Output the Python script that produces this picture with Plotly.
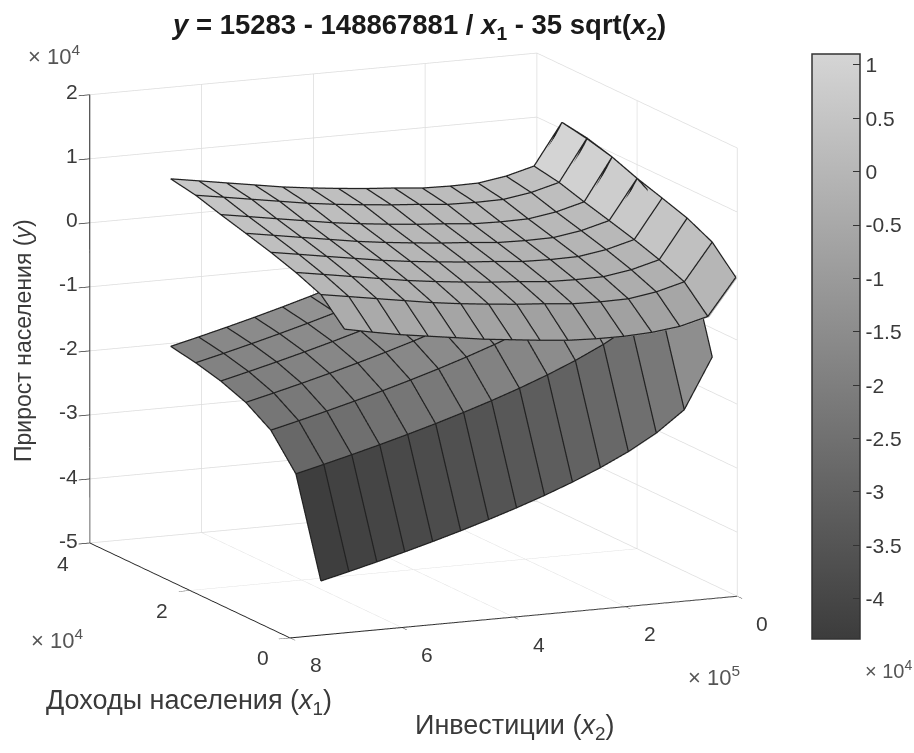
import numpy as np
import plotly.graph_objects as go

x1_upper = [0, 5000, 10000, 15000, 20000, 25000, 30000, 35000]
x1_lower = [5000, 10000, 15000, 20000, 25000, 30000, 35000]
x2_vals = [700000, 650000, 600000, 550000, 500000, 450000, 400000, 350000,
           300000, 250000, 200000, 150000, 100000, 50000, 0]

z_upper = [
    [-2695, -3575, -4375, -5020, -5664, -6310, -6800, -7285, -7695, -7870, -7890, -7675, -7150, -6000, -310],
    [960, 240, -490, -1210, -1930, -2500, -2980, -3400, -3730, -4140, -4240, -4180, -3500, -2340, 3450],
    [2560, 1840, 1110, 390, -330, -900, -1380, -1800, -2130, -2540, -2640, -2580, -1900, -740, 5350],
    [3850, 3130, 2400, 1680, 960, 390, -90, -510, -840, -1250, -1350, -1290, -610, 550, 6620],
    [4960, 4240, 3510, 2790, 2070, 1500, 1020, 600, 270, -140, -240, -180, 500, 1660, 7850],
    [6030, 5310, 4580, 3860, 3140, 2570, 2090, 1670, 1340, 930, 830, 890, 1570, 2730, 9340],
    [7200, 6490, 5760, 5040, 4320, 3750, 3270, 2850, 2520, 2110, 2010, 2070, 2750, 3910, 10430],
    [7906, 7190, 6460, 5740, 5015, 4450, 3970, 3550, 3220, 2810, 2710, 2770, 3450, 4610, 11040],
]
z_lower = [
    [-43774, -42709, -41602, -40448, -39240, -37970, -36627, -35197, -33661, -31991, -30143, -28046, -25559, -22317, -14491],
    [-28887, -27822, -26715, -25561, -24353, -23083, -21740, -20310, -18774, -17104, -15256, -13159, -10672, -7430, 396],
    [-23925, -22860, -21753, -20599, -19391, -18121, -16778, -15348, -13812, -12142, -10294, -8197, -5710, -2468, 5358],
    [-21443, -20378, -19271, -18117, -16909, -15639, -14296, -12866, -11330, -9660, -7812, -5715, -3228, 14, 7840],
    [-19955, -18890, -17783, -16629, -15421, -14151, -12808, -11378, -9842, -8172, -6324, -4227, -1740, 1502, 9328],
    [-18962, -17897, -16790, -15636, -14428, -13158, -11815, -10385, -8849, -7179, -5331, -3234, -747, 2495, 10321],
    [-18253, -17188, -16081, -14927, -13719, -12449, -11106, -9676, -8140, -6470, -4622, -2525, -38, 3204, 11030],
]

x1_ticks = [0, 20000, 40000]
x1_labels = ["0", "2", "4"]
x2_ticks = [0, 200000, 400000, 600000, 800000]
x2_labels = ["0", "2", "4", "6", "8"]
z_ticks = [-50000, -40000, -30000, -20000, -10000, 0, 10000, 20000]
z_labels = ["-5", "-4", "-3", "-2", "-1", "0", "1", "2"]
cb_ticks = [10000, 5000, 0, -5000, -10000, -15000, -20000, -25000, -30000, -35000, -40000]
cb_labels = ["1", "0.5", "0", "-0.5", "-1", "-1.5", "-2", "-2.5", "-3", "-3.5", "-4"]

W, H = 914, 753
TXT = "#3a3a3a"
FONT = "Liberation Sans"
CMIN, CMAX = -43774, 11030
SCALE = [[0, "rgb(60,60,60)"], [1, "rgb(213,213,213)"]]
# Wire lines are moved along the viewing direction only, so they stay on the
# same screen position but are not buried in the faces by the depth test.
TOWARD_EYE = (-300, 2685, 134)


def sheet(x1, x2, z, showbar):
    z = np.array(z, dtype=float)
    n, m = z.shape
    X, Y = np.meshgrid(x1, x2, indexing="ij")
    idx = np.arange(n * m).reshape(n, m)
    a = idx[:-1, :-1].ravel()
    b = idx[1:, :-1].ravel()
    c = idx[1:, 1:].ravel()
    d = idx[:-1, 1:].ravel()
    cell = z[:-1, 1:].ravel()
    kw = dict(cmin=CMIN, cmax=CMAX, colorscale=SCALE, hoverinfo="skip")
    if showbar:
        kw.update(showscale=True, colorbar=dict(
            x=812 / W, xanchor="left", y=1 - 639 / H, yanchor="bottom",
            len=585 / H, lenmode="fraction", thickness=48, thicknessmode="pixels",
            outlinewidth=1.5, outlinecolor="#333333", xpad=0, ypad=0,
            tickmode="array", tickvals=cb_ticks, ticktext=cb_labels,
            ticks="inside", ticklen=7, tickwidth=1, tickcolor="#333333",
            tickfont=dict(family=FONT, size=21, color=TXT)))
    else:
        kw.update(showscale=False)
    mesh = go.Mesh3d(
        x=X.ravel(), y=Y.ravel(), z=z.ravel(),
        i=np.r_[a, a], j=np.r_[b, c], k=np.r_[c, d],
        intensity=np.r_[cell, cell], intensitymode="cell", flatshading=True,
        lighting=dict(ambient=1, diffuse=0, specular=0, roughness=1, fresnel=0), **kw)
    XL = np.maximum(X + TOWARD_EYE[0], 0)
    YL = Y + TOWARD_EYE[1]
    ZL = z + TOWARD_EYE[2]
    lx, ly, lz = [], [], []
    for r in range(n):
        lx += list(XL[r]) + [None]
        ly += list(YL[r]) + [None]
        lz += list(ZL[r]) + [None]
    for c_ in range(m):
        lx += list(XL[:, c_]) + [None]
        ly += list(YL[:, c_]) + [None]
        lz += list(ZL[:, c_]) + [None]
    lines = go.Scatter3d(x=lx, y=ly, z=lz, mode="lines", hoverinfo="skip",
                         line=dict(color="#222222", width=2.5), connectgaps=False)
    return [mesh, lines]


fig = go.Figure()
for tr in sheet(x1_lower, x2_vals, z_lower, True) + sheet(x1_upper, x2_vals, z_upper, False):
    fig.add_trace(tr)


def axis(tv, rng):
    return dict(range=rng, tickmode="array", tickvals=tv, ticktext=[""] * len(tv), title=dict(text=""),
                showgrid=True, gridcolor="#dcdcdc", gridwidth=1.5, showbackground=False,
                zeroline=False, showline=True, linecolor="#222222", linewidth=2,
                ticks="outside", ticklen=12, tickwidth=1.5, tickcolor="#333333", showspikes=False)


EDGE_X1, EDGE_X2 = 39950, 799000
scene_ann = []
tf = dict(family=FONT, size=21, color=TXT)
for v, t in zip(x1_ticks, x1_labels):
    scene_ann.append(dict(x=min(v, EDGE_X1), y=EDGE_X2, z=-50000, text=t, showarrow=False, xshift=-28, yshift=-20, font=tf))
for v, t in zip(x2_ticks, x2_labels):
    scene_ann.append(dict(x=0, y=min(v, EDGE_X2), z=-50000, text=t, showarrow=False, xshift=25, yshift=-27, font=tf))
for v, t in zip(z_ticks, z_labels):
    scene_ann.append(dict(x=EDGE_X1, y=EDGE_X2, z=v, text=t, showarrow=False, xanchor="right", xshift=-11, yshift=3, font=tf))

fig.update_layout(
    width=W, height=H, margin=dict(l=0, r=0, t=0, b=0), paper_bgcolor="white", showlegend=False,
    scene=dict(
        domain=dict(x=[0, 827 / W], y=[1 - 691 / H, 1]),
        xaxis=axis(x1_ticks, [0, 40000]), yaxis=axis(x2_ticks, [0, 800000]), zaxis=axis(z_ticks, [-50000, 20000]),
        aspectmode="manual", aspectratio=dict(x=1.43, y=1.416, z=1.327),
        camera=dict(projection=dict(type="orthographic"), eye=dict(x=-1.7, y=0.754, z=0.40),
                    center=dict(x=0, y=0, z=0), up=dict(x=0, y=0, z=1)),
        annotations=scene_ann),
)


def note(px, py, text, size=18, color=TXT, angle=0):
    fig.add_annotation(x=px / W, y=1 - py / H, xref="paper", yref="paper", text=text, showarrow=False,
                       textangle=angle, xanchor="center", yanchor="middle",
                       font=dict(family=FONT, size=size, color=color))


note(418, 27, "<b><i>y</i> = 15283 - 148867881 / <i>x</i><sub>1</sub> - 35 sqrt(<i>x</i><sub>2</sub>)</b>", size=27.5, color="#1a1a1a")
note(23, 341, "Прирост населения (<i>y</i>)", size=23, angle=-90)
note(189, 702, "Доходы населения (<i>x</i><sub>1</sub>)", size=27)
note(514, 727, "Инвестиции (<i>x</i><sub>2</sub>)", size=27)
for px, py, s, e in [(54, 55, 22, 4), (57, 639, 22, 4), (714, 676, 22, 5), (888, 669, 20, 4)]:
    note(px, py, f"× 10<sup>{e}</sup>", size=s, color="#555555")

fig.write_html("out.html", config=dict(displayModeBar=False),
               post_script="document.body.style.margin='0';document.body.style.overflow='hidden';")
